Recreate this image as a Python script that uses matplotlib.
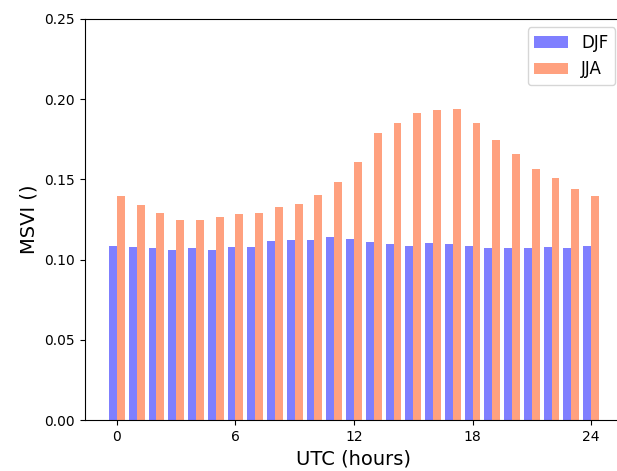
import numpy as np
import matplotlib
matplotlib.use("Agg")
import matplotlib.pyplot as plt

# Diurnal cycle of MSVI, winter vs summer
hours = np.arange(25)
djf = [0.1087, 0.1079, 0.1074, 0.1060, 0.1072, 0.1060, 0.1077, 0.1079, 0.1114, 0.1122,
       0.1124, 0.1139, 0.1127, 0.1112, 0.1095, 0.1082, 0.1105, 0.1097, 0.1082, 0.1072,
       0.1072, 0.1074, 0.1076, 0.1074, 0.1087]
jja = [0.1397, 0.1340, 0.1288, 0.1247, 0.1247, 0.1264, 0.1284, 0.1291, 0.1328, 0.1347,
       0.1401, 0.1482, 0.1606, 0.1789, 0.1852, 0.1912, 0.1930, 0.1937, 0.1854, 0.1744,
       0.1657, 0.1563, 0.1509, 0.1442, 0.1397]

fig = plt.figure(figsize=(6.17, 4.71), dpi=100)
# axes runs a little past the right edge of the figure, as in the original crop
ax = fig.add_axes([84.6 / 617, 51 / 471, 538.8 / 617, 401 / 471])

w = 0.4
ax.bar(hours - w / 2, djf, width=w, color="blue", alpha=0.5, label="DJF")
ax.bar(hours + w / 2, jja, width=w, color="orangered", alpha=0.5, label="JJA")

ax.set_ylim(0, 0.25)
ax.set_xticks([0, 6, 12, 18, 24])
ax.set_yticks(np.arange(0, 0.26, 0.05))
ax.yaxis.set_major_formatter(matplotlib.ticker.FormatStrFormatter("%.2f"))
ax.set_xlabel("UTC (hours)", fontsize=14)
ax.set_ylabel("MSVI ()", fontsize=14)
ax.legend(loc="upper right", fontsize=12)

fig.savefig("out.png", dpi=100)
